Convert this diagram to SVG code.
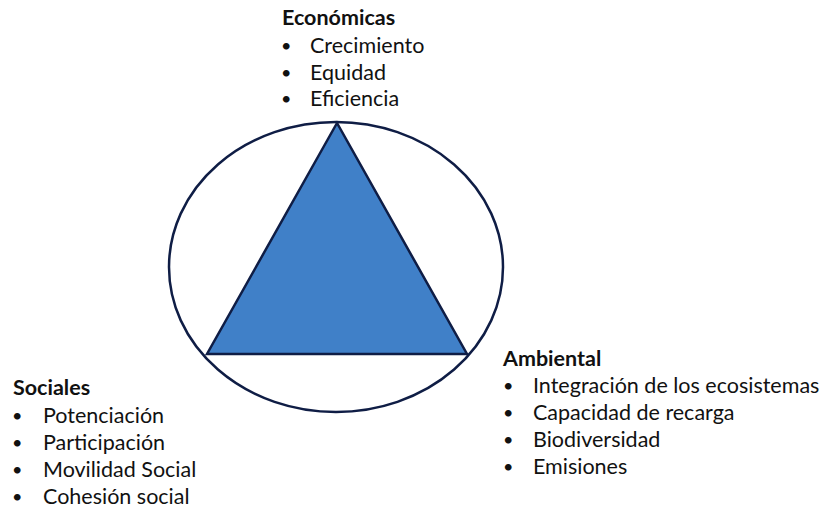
<svg xmlns="http://www.w3.org/2000/svg" width="824" height="508" viewBox="0 0 824 508">
<style>
text{font-family:Lato,"Open Sans","Liberation Sans",sans-serif;font-size:21.5px;fill:#111}
.h{font-weight:bold}
.b{font-size:18px}
.shape{stroke:#0f1d45;stroke-width:2.5}
</style>
<rect width="824" height="508" fill="#fff"/>
<g id="diagram">
<ellipse class="shape" cx="336" cy="267" rx="167" ry="145" fill="none"/>
<polygon class="shape" points="337,123 207,354 467,354" fill="#4080c8" stroke-linejoin="miter"/>
</g>
<g id="economicas">
<text class="h" x="282" y="25">Económicas</text>
<text class="b" x="281" y="52">•</text><text x="310" y="53">Crecimiento</text>
<text class="b" x="281" y="79">•</text><text x="310" y="80">Equidad</text>
<text class="b" x="281" y="105">•</text><text x="310" y="106">Eficiencia</text>
</g>
<g id="sociales">
<text class="h" x="13" y="395">Sociales</text>
<text class="b" x="12" y="422">•</text><text x="43" y="423">Potenciación</text>
<text class="b" x="12" y="449">•</text><text x="43" y="450">Participación</text>
<text class="b" x="12" y="476">•</text><text x="43" y="477">Movilidad Social</text>
<text class="b" x="12" y="503">•</text><text x="43" y="504">Cohesión social</text>
</g>
<g id="ambiental">
<text class="h" x="503" y="366">Ambiental</text>
<text class="b" x="503" y="392">•</text><text x="533" y="393">Integración de los ecosistemas</text>
<text class="b" x="503" y="419">•</text><text x="533" y="420">Capacidad de recarga</text>
<text class="b" x="503" y="446">•</text><text x="533" y="447">Biodiversidad</text>
<text class="b" x="503" y="473">•</text><text x="533" y="474">Emisiones</text>
</g>
<g id="connectors"></g>
</svg>
